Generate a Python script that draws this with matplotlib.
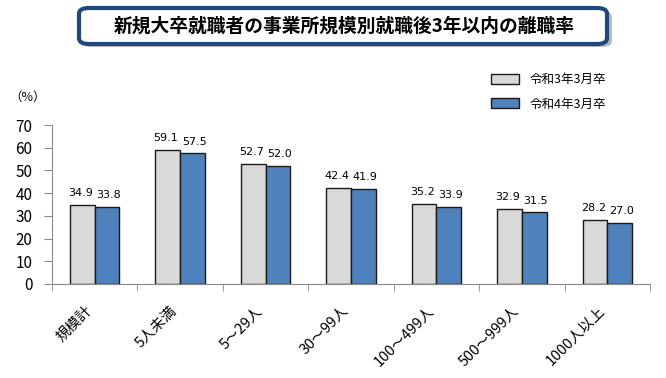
import matplotlib
matplotlib.use("Agg")
import matplotlib.pyplot as plt
import matplotlib.transforms as mtransforms
import numpy as np
from matplotlib.patches import FancyBboxPatch

plt.rcParams['font.family'] = ['Noto Sans CJK JP', 'DejaVu Sans']

categories = ["規模計", "5人未満", "5～29人", "30～99人", "100～499人", "500～999人", "1000人以上"]
r3 = [34.9, 59.1, 52.7, 42.4, 35.2, 32.9, 28.2]
r4 = [33.8, 57.5, 52.0, 41.9, 33.9, 31.5, 27.0]
series_names = ["令和3年3月卒", "令和4年3月卒"]
title = "新規大卒就職者の事業所規模別就職後3年以内の離職率"

fig = plt.figure(figsize=(6.66, 3.78), dpi=100)
ax = fig.add_axes([52/666, (378-284)/378, (650-52)/666, (284-125)/378])

x = np.arange(len(categories))
w = 0.29
ax.bar(x - w/2, r3, w, color="#D9D9D9", edgecolor="#1a1a1a", linewidth=1.0, label=series_names[0])
ax.bar(x + w/2, r4, w, color="#4F81BD", edgecolor="#1a1a1a", linewidth=1.0, label=series_names[1])

for i in range(len(categories)):
    ax.text(x[i] - w/2 - 0.02, r3[i] + 3, f"{r3[i]:.1f}", ha="center", va="bottom", fontsize=8, family=["DejaVu Sans"])
    ax.text(x[i] + w/2 + 0.02, r4[i] + 3, f"{r4[i]:.1f}", ha="center", va="bottom", fontsize=8, family=["DejaVu Sans"])

ax.set_xlim(-0.5, len(categories) - 0.5)
ax.set_ylim(0, 70)
ax.set_yticks(range(0, 71, 10))
ax.tick_params(axis="y", labelsize=11, length=6, color="#888888", pad=8)
ax.set_xticks(np.arange(-0.5, len(categories), 1.0), minor=True)
ax.set_xticks(x)
ax.set_xticklabels(categories, rotation=45, ha="right", rotation_mode="anchor", fontsize=10.5)
ax.tick_params(axis="x", which="major", length=0, pad=14)
ax.tick_params(axis="x", which="minor", length=5, color="#888888")
offset = mtransforms.ScaledTranslation(-10/100, 0, fig.dpi_scale_trans)
for lbl in ax.get_xticklabels():
    lbl.set_transform(lbl.get_transform() + offset)
for s in ["top", "right"]:
    ax.spines[s].set_visible(False)
ax.spines["left"].set_color("#888888")
ax.spines["bottom"].set_color("#888888")

fig.text(28/666, 1 - 97/378, "（%）", fontsize=9, ha="center", va="center")

leg = fig.legend(loc="upper left", bbox_to_anchor=(480/666, 1 - 62/378), frameon=False,
                 fontsize=9, handlelength=2.2, handleheight=0.9, labelspacing=0.9, handletextpad=0.9)

# title box
shadow = FancyBboxPatch((82/666, 1 - 47/378), (612-82)/666, 36/378,
                        boxstyle="round,pad=0,rounding_size=0.015", transform=fig.transFigure,
                        facecolor="#BBBBBB", edgecolor="none", zorder=1)
box = FancyBboxPatch((79/666, 1 - 44/378), (610-82)/666, 36/378,
                     boxstyle="round,pad=0,rounding_size=0.015", transform=fig.transFigure,
                     facecolor="white", edgecolor="#1F497D", linewidth=3, zorder=2)
fig.patches.extend([shadow, box])
fig.text(344/666, 1 - 26/378, title, fontsize=13.5, fontweight="bold", ha="center", va="center", zorder=3)

fig.savefig("out.png", dpi=100)
